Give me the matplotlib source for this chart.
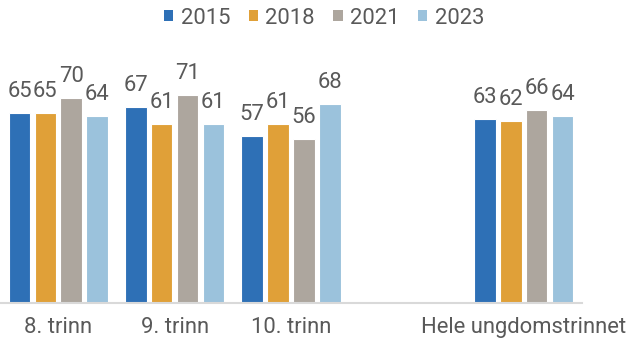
import numpy as np
import matplotlib
matplotlib.use('Agg')
import matplotlib.pyplot as plt
from matplotlib.patches import Patch

# Share of students per grade level and survey year
categories = ['8. trinn', '9. trinn', '10. trinn', '', 'Hele ungdomstrinnet']
years = ['2015', '2018', '2021', '2023']
values_2015 = [65, 67, 57, None, 63]
values_2018 = [65, 61, 61, None, 62]
values_2021 = [70, 71, 56, None, 66]
values_2023 = [64, 61, 68, None, 64]
series = [values_2015, values_2018, values_2021, values_2023]
colors = ['#2E70B6', '#E0A038', '#ADA69E', '#9BC2DC']

plt.rcParams['font.family'] = ['Roboto', 'DejaVu Sans']
text_col = '#595959'
fs = 15.8

fig = plt.figure(figsize=(6.29, 3.41), dpi=100)
ax = fig.add_axes([0.0, 1 - 302.5 / 341, 582 / 629, 292 / 341])

x = np.arange(len(categories))
slot = 0.222
for i, (vals, col) in enumerate(zip(series, colors)):
    pos = [xi + (i - 1.5) * slot for xi, v in zip(x, vals) if v is not None]
    heights = [v for v in vals if v is not None]
    ax.bar(pos, heights, width=0.185, color=col, edgecolor='white', linewidth=0.8, zorder=2)
    for p, h in zip(pos, heights):
        ax.annotate(str(h), (p, h), xytext=(0, 11.5), textcoords='offset points',
                    ha='center', va='baseline', fontsize=fs, color=text_col)

ax.set_xlim(-0.5, 4.5)
ax.set_ylim(0, 100)
ax.set_yticks([])
ax.set_xticks(x)
ax.set_xticklabels(categories, fontsize=fs, color=text_col)
ax.tick_params(axis='x', length=0, pad=10.5)
for s in ['top', 'left', 'right']:
    ax.spines[s].set_visible(False)
ax.spines['bottom'].set_color('#D9D9D9')
ax.spines['bottom'].set_linewidth(1.5)

handles = [Patch(facecolor=c, edgecolor='none') for c in colors]
leg = fig.legend(handles, years, loc='center', bbox_to_anchor=(324 / 629, 1 - 18 / 341),
                 ncol=4, frameon=False, fontsize=fs, handlelength=0.42, handleheight=0.42,
                 handletextpad=0.33, columnspacing=0.85, borderpad=0)
for t in leg.get_texts():
    t.set_color(text_col)

fig.savefig('out.png', dpi=100)
